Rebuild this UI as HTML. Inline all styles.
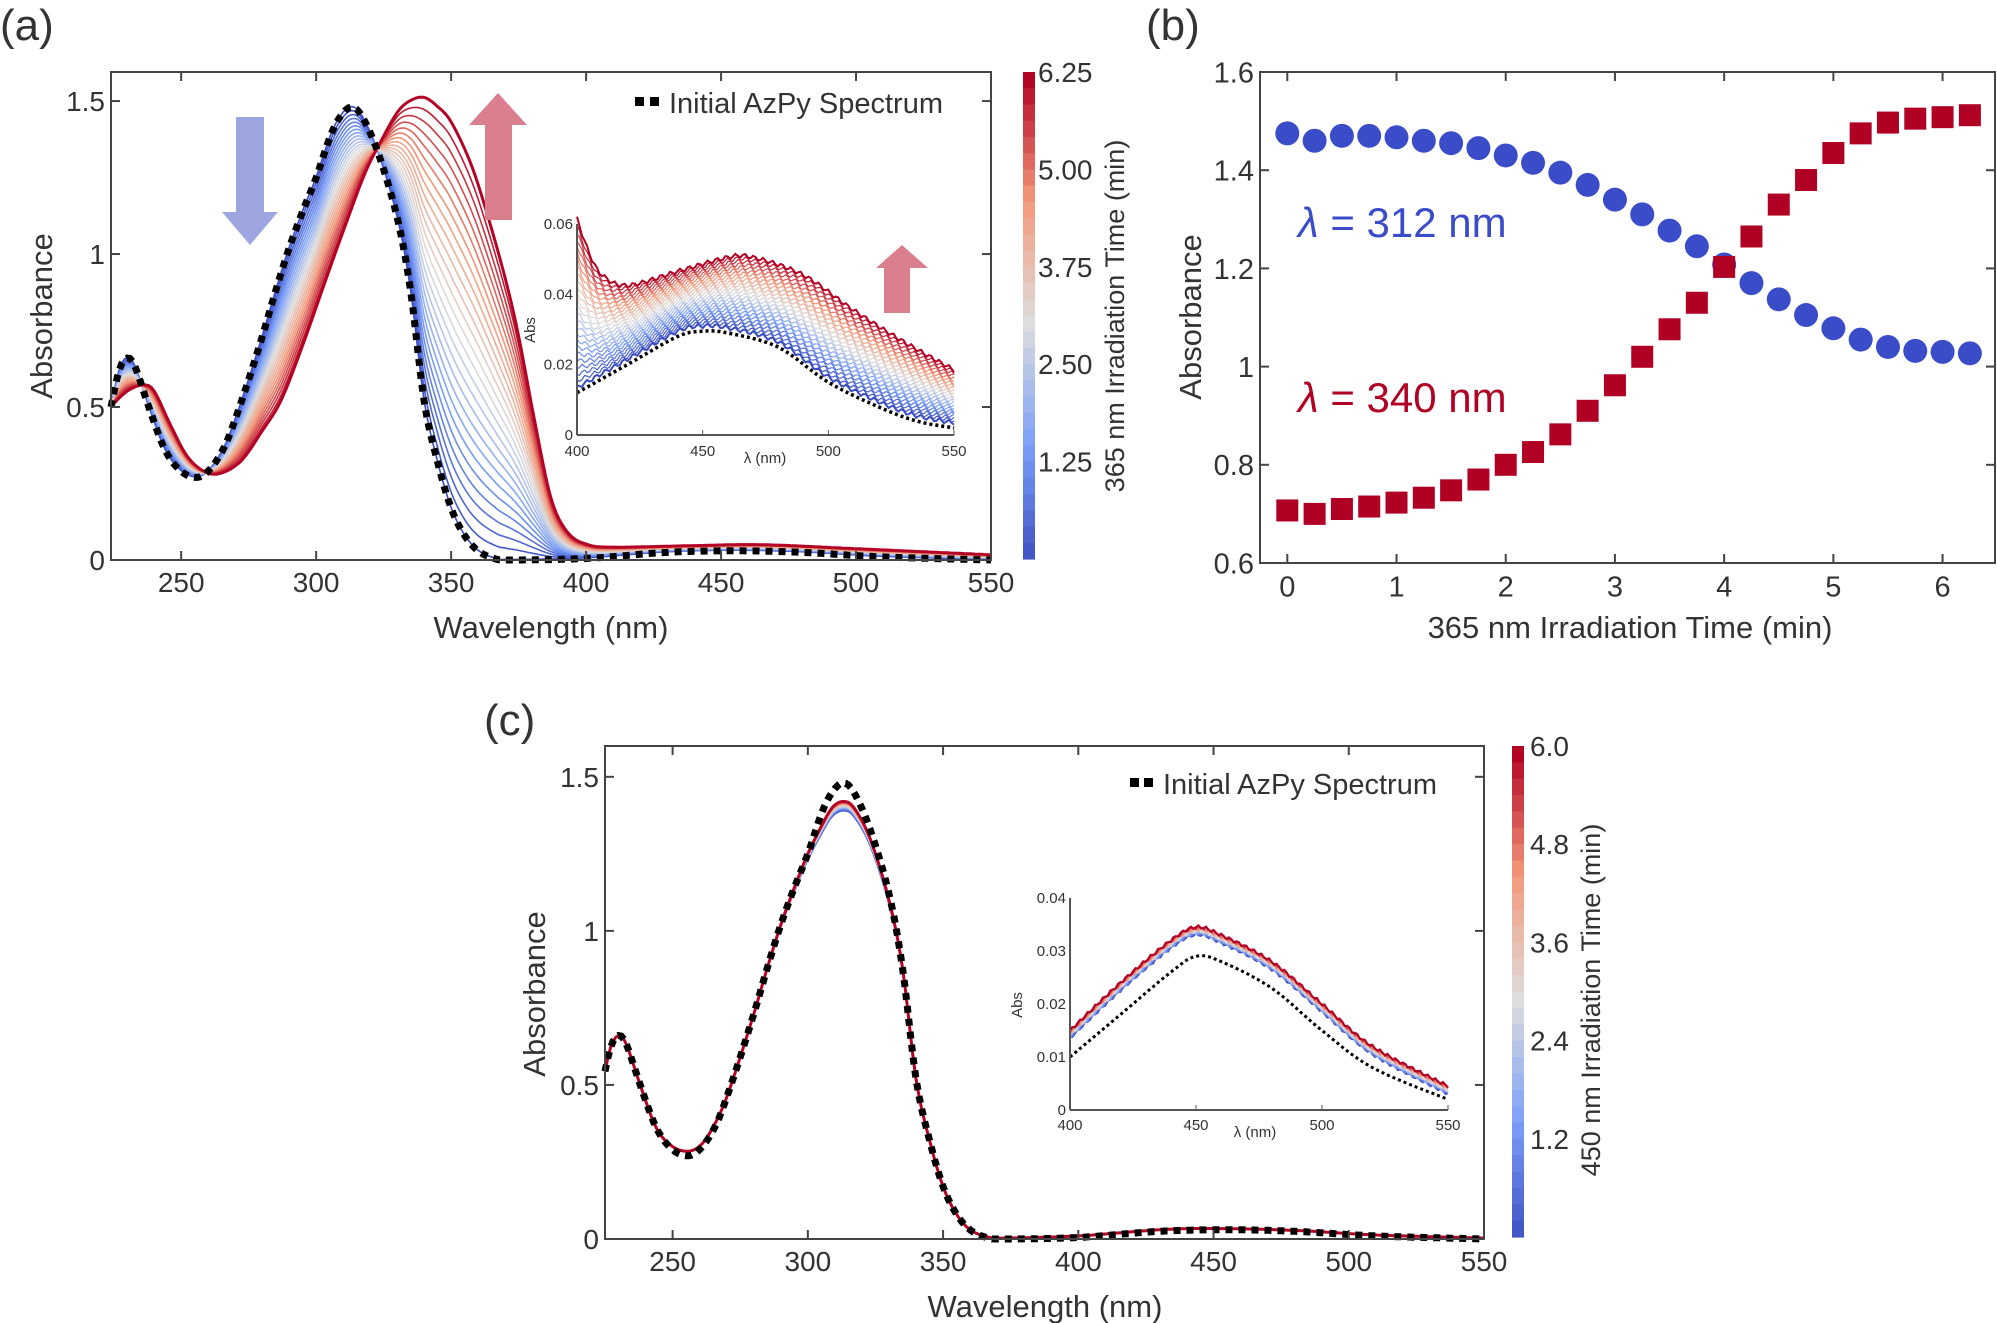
<!DOCTYPE html>
<html><head><meta charset="utf-8"><style>
html,body{margin:0;padding:0;background:#fff;}
svg{display:block;}
text{font-family:"Liberation Sans Narrow","Liberation Sans",sans-serif;fill:#333;}
</style></head><body>
<svg id="s" width="1997" height="1323" viewBox="0 0 1997 1323" xmlns="http://www.w3.org/2000/svg"></svg>
<script>
const S=document.getElementById('s');let out='';
function add(s){out+=s;}
function cr(pts){const r=[];for(let i=0;i<pts.length-1;i++){const p0=pts[Math.max(0,i-1)],p1=pts[i],p2=pts[i+1],p3=pts[Math.min(pts.length-1,i+2)];for(let k=0;k<12;k++){const t=k/12,t2=t*t,t3=t2*t;const f=(a,b,c,d)=>0.5*((2*b)+(-a+c)*t+(2*a-5*b+4*c-d)*t2+(-a+3*b-3*c+d)*t3);r.push([f(p0[0],p1[0],p2[0],p3[0]),f(p0[1],p1[1],p2[1],p3[1])]);}}r.push(pts[pts.length-1]);return r;}
function mk(pts){const d=cr(pts);return x=>{for(let i=0;i<d.length-1;i++){if(x>=d[i][0]&&x<=d[i+1][0]){const t=(x-d[i][0])/((d[i+1][0]-d[i][0])||1);return d[i][1]+t*(d[i+1][1]-d[i][1]);}}return x<d[0][0]?d[0][1]:d[d.length-1][1];};}
function cmap(f){const st=[[0,[59,76,192]],[0.25,[123,159,249]],[0.5,[221,221,221]],[0.75,[244,154,123]],[1,[180,4,38]]];for(let i=0;i<st.length-1;i++){if(f<=st[i+1][0]){const t=(f-st[i][0])/(st[i+1][0]-st[i][0]);const c=st[i][1].map((v,j)=>Math.round(v+t*(st[i+1][1][j]-v)));return 'rgb('+c.join(',')+')';}}return 'rgb(180,4,38)';}
function ax(o){const X=v=>o.x0+(v-o.xa)/(o.xb-o.xa)*(o.x1-o.x0),Y=v=>o.y0-(v-o.ya)/(o.yb-o.ya)*(o.y0-o.y1);return {X,Y};}
function path(fn,A,xa,xb,step,attrs){let d='';for(let x=xa;x<=xb+1e-9;x+=step){d+=(d?'L':'M')+A.X(x).toFixed(1)+','+A.Y(fn(x)).toFixed(1);}add(`<path d="${d}" fill="none" ${attrs}/>`);}
function frame(o,xt,yt,fs,tl,box,lab){const A=ax(o);add(`<rect x="${o.x0}" y="${o.y1}" width="${o.x1-o.x0}" height="${o.y0-o.y1}" fill="none" stroke="#444" stroke-width="2"/>`);
xt.forEach(v=>{const x=A.X(v);add(`<line x1="${x}" y1="${o.y0}" x2="${x}" y2="${o.y0-tl}" stroke="#444" stroke-width="2"/>`);if(box)add(`<line x1="${x}" y1="${o.y1}" x2="${x}" y2="${o.y1+tl}" stroke="#444" stroke-width="2"/>`);add(`<text x="${x}" y="${o.y0+fs*1.15}" font-size="${fs}" text-anchor="middle">${lab?lab(v):v}</text>`);});
yt.forEach(v=>{const y=A.Y(v);add(`<line x1="${o.x0}" y1="${y}" x2="${o.x0+tl}" y2="${y}" stroke="#444" stroke-width="2"/>`);if(box)add(`<line x1="${o.x1}" y1="${y}" x2="${o.x1-tl}" y2="${y}" stroke="#444" stroke-width="2"/>`);add(`<text x="${o.x0-6}" y="${y+fs*0.36}" font-size="${fs}" text-anchor="end">${v}</text>`);});return A;}
const init=mk([[224,.50],[227,.62],[230,.66],[233,.63],[238,.50],[244,.36],[250,.29],[256,.27],[261,.30],[266,.37],[270,.46],[275,.59],[280,.73],[285,.88],[290,1.02],[295,1.14],[300,1.25],[305,1.38],[309,1.45],[313,1.48],[317,1.45],[323,1.33],[330,1.12],[335,.88],[340,.52],[345,.32],[350,.17],[355,.08],[360,.03],[366,.005],[372,0],[400,.005],[430,.025],[455,.03],[480,.025],[510,.01],[550,0]]);
const fin=mk([[224,.50],[230,.55],[236,.57],[240,.55],[246,.44],[252,.34],[258,.29],[264,.28],[272,.32],[280,.42],[287,.52],[295,.70],[303,.90],[312,1.12],[318,1.26],[323,1.35],[330,1.46],[335,1.50],[340,1.51],[345,1.48],[350,1.43],[357,1.30],[363,1.14],[370,.92],[375,.73],[381,.45],[387,.20],[393,.09],[400,.05],[410,.04],[440,.045],[465,.048],[500,.035],[550,.015]]);
const iI=mk([[400,.012],[420,.02],[440,.028],[450,.0295],[460,.029],[480,.025],[500,.015],[520,.008],[535,.004],[550,.002]]);
const iF=mk([[400,.06],[405,.05],[410,.044],[420,.041],[440,.045],[460,.049],[470,.049],[490,.044],[510,.034],[530,.025],[550,.017]]);
add(`<text x="0" y="40" font-size="44" font-family="Liberation Sans">(a)</text>`);
let oa={x0:111,x1:991,y0:560,y1:72,xa:224,xb:550,ya:0,yb:1.595};
let A=ax(oa);
const N=26;
for(let i=0;i<N;i++){const f=i/(N-1);path(x=>init(x)*(1-f)+fin(x)*f+0.002,A,224,550,1,`stroke="${cmap(f)}" stroke-width="${i==N-1?3:1.6}"`);}
path(init,A,224,550,1,`stroke="#000" stroke-width="7" stroke-dasharray="7 6"`);
frame(oa,[250,300,350,400,450,500,550],[0,0.5,1,1.5],28,9,true);
add(`<polygon points="236,117 264,117 264,212 278,212 250,245 222,212 236,212" fill="#9ea6e0"/>`);
add(`<polygon points="485,220 512,220 512,125 527,125 498,93 469,125 485,125" fill="#d97f8e"/>`);
add(`<polygon points="884,313 910,313 910,268 928,268 902,245 876,268 884,268" fill="#d97f8e"/>`);
add(`<rect x="635" y="97" width="9" height="9" fill="#000"/><rect x="650" y="97" width="9" height="9" fill="#000"/>`);
add(`<text x="669" y="113" font-size="29">Initial AzPy Spectrum</text>`);
let ia={x0:577,x1:954,y0:435,y1:224,xa:400,xb:550,ya:0,yb:0.06};
let IA=ax(ia);
for(let i=0;i<N;i++){const f=i/(N-1);path(x=>iI(x)*(1-f)+iF(x)*f+0.0015+0.0006*Math.sin(x*1.7+i),IA,400,550,1,`stroke="${cmap(f)}" stroke-width="${i==N-1||i==0?2:1.2}"`);}
path(iI,IA,400,550,1,`stroke="#000" stroke-width="3.5" stroke-dasharray="3 3"`);
add(`<line x1="577" y1="224" x2="577" y2="435" stroke="#555" stroke-width="2"/><line x1="577" y1="435" x2="954" y2="435" stroke="#555" stroke-width="2"/>`);
[400,450,500,550].forEach(v=>{const x=IA.X(v);add(`<line x1="${x}" y1="435" x2="${x}" y2="430" stroke="#555"/><text x="${x}" y="456" font-size="15" text-anchor="middle">${v}</text>`);});
[[0,'0'],[0.02,'0.02'],[0.04,'0.04'],[0.06,'0.06']].forEach(([v,l])=>{const y=IA.Y(v);add(`<text x="573" y="${y+5}" font-size="15" text-anchor="end">${l}</text>`);});
add(`<text x="765" y="463" font-size="15" text-anchor="middle">λ (nm)</text>`);
add(`<text transform="translate(535,330) rotate(-90)" font-size="15" text-anchor="middle">Abs</text>`);
add(`<text transform="translate(52,316) rotate(-90)" font-size="31" text-anchor="middle" font-family="Liberation Sans">Absorbance</text>`);
add(`<text x="551" y="638" font-size="31" text-anchor="middle">Wavelength (nm)</text>`);
function cbar(x,y1,y2,w,n){for(let i=0;i<n;i++){const f=1-i/n;const h=(y2-y1)/n;add(`<rect x="${x}" y="${(y1+i*h).toFixed(1)}" width="${w}" height="${(h+0.6).toFixed(1)}" fill="${cmap(f)}"/>`);}}
cbar(1023,72,559,12,30);
[[6.25,'6.25'],[5,'5.00'],[3.75,'3.75'],[2.5,'2.50'],[1.25,'1.25']].forEach(([v,l])=>{const y=559-v/6.25*487;add(`<text x="1038" y="${y+10}" font-size="28">${l}</text>`);});
add(`<text transform="translate(1124,316) rotate(-90)" font-size="27" text-anchor="middle" font-family="Liberation Sans">365 nm Irradiation Time (min)</text>`);
add(`<text x="1146" y="40" font-size="44" font-family="Liberation Sans">(b)</text>`);
let ob={x0:1260,x1:1995,y0:563,y1:72,xa:-0.25,xb:6.48,ya:0.6,yb:1.6};
let B=frame(ob,[0,1,2,3,4,5,6],[0.6,0.8,1,1.2,1.4,1.6],29,9,true,v=>v);
const bl=[1.475,1.46,1.47,1.47,1.467,1.46,1.455,1.445,1.43,1.415,1.395,1.37,1.34,1.31,1.277,1.245,1.208,1.17,1.137,1.105,1.078,1.055,1.04,1.032,1.03,1.027];
const rd=[.707,.70,.71,.715,.723,.733,.748,.77,.80,.826,.862,.910,.962,1.02,1.076,1.13,1.203,1.265,1.33,1.38,1.435,1.475,1.497,1.505,1.508,1.512];
bl.forEach((v,i)=>add(`<circle cx="${B.X(i*0.25)}" cy="${B.Y(v)}" r="12" fill="#3b4cc8"/>`));
rd.forEach((v,i)=>add(`<rect x="${B.X(i*0.25)-11}" y="${B.Y(v)-11}" width="22" height="22" fill="#b00024"/>`));
add(`<text x="1298" y="237" font-size="42" style="fill:#3b4cc8" font-family="Liberation Serif"><tspan font-style="italic">λ</tspan> = 312 nm</text>`);
add(`<text x="1298" y="412" font-size="42" style="fill:#b00024" font-family="Liberation Serif"><tspan font-style="italic">λ</tspan> = 340 nm</text>`);
add(`<text transform="translate(1201,317) rotate(-90)" font-size="31" text-anchor="middle" font-family="Liberation Sans">Absorbance</text>`);
add(`<text x="1630" y="638" font-size="31" text-anchor="middle">365 nm Irradiation Time (min)</text>`);
add(`<text x="484" y="735" font-size="44" font-family="Liberation Sans">(c)</text>`);
let oc={x0:605,x1:1484,y0:1239,y1:746,xa:225,xb:550,ya:0,yb:1.6};
let C=ax(oc);
const cmain=mk([[224,.50],[227,.62],[230,.66],[233,.63],[238,.50],[244,.36],[250,.30],[256,.285],[261,.31],[266,.38],[270,.46],[275,.59],[280,.73],[285,.88],[290,1.02],[295,1.14],[300,1.25],[305,1.34],[309,1.40],[313,1.42],[317,1.40],[323,1.30],[330,1.10],[335,.88],[340,.52],[345,.32],[350,.17],[355,.08],[360,.03],[366,.008],[372,.003],[400,.01],[430,.03],[450,.034],[480,.028],[510,.013],[550,.003]]);
for(let i=0;i<12;i++){const f=i/11;path(x=>cmain(x)-(1-f)*0.03*Math.exp(-Math.pow((x-313)/20,2)),C,225,550,1,`stroke="${cmap(f)}" stroke-width="${i==11?3:1.6}"`);}
path(init,C,225,550,1,`stroke="#000" stroke-width="7" stroke-dasharray="7 6"`);
frame(oc,[250,300,350,400,450,500,550],[0,0.5,1,1.5],28,9,true);
add(`<rect x="1130" y="778" width="9" height="9" fill="#000"/><rect x="1144" y="778" width="9" height="9" fill="#000"/>`);
add(`<text x="1163" y="794" font-size="29">Initial AzPy Spectrum</text>`);
let ic={x0:1070,x1:1448,y0:1110,y1:898,xa:400,xb:550,ya:0,yb:0.04};
let IC=ax(ic);
const cI=mk([[400,.010],[420,.018],[440,.026],[450,.029],[460,.028],[480,.023],[500,.015],[520,.008],[550,.002]]);
const cF=mk([[400,.015],[420,.024],[440,.032],[450,.0345],[460,.033],[480,.028],[500,.020],[520,.012],[550,.0045]]);
for(let i=0;i<12;i++){const f=i/11;path(x=>cF(x)-(1-f)*0.0015+0.0003*Math.sin(x*2+i),IC,400,550,1,`stroke="${cmap(f)}" stroke-width="${i==11?2.2:1.4}"`);}
path(cI,IC,400,550,1,`stroke="#000" stroke-width="3" stroke-dasharray="3 3"`);
add(`<line x1="1070" y1="898" x2="1070" y2="1110" stroke="#555" stroke-width="2"/><line x1="1070" y1="1110" x2="1448" y2="1110" stroke="#555" stroke-width="2"/>`);
[400,450,500,550].forEach(v=>{const x=IC.X(v);add(`<line x1="${x}" y1="1110" x2="${x}" y2="1105" stroke="#555"/><text x="${x}" y="1130" font-size="15" text-anchor="middle">${v}</text>`);});
[[0,'0'],[0.01,'0.01'],[0.02,'0.02'],[0.03,'0.03'],[0.04,'0.04']].forEach(([v,l])=>{const y=IC.Y(v);add(`<text x="1066" y="${y+5}" font-size="15" text-anchor="end">${l}</text>`);});
add(`<text x="1255" y="1137" font-size="15" text-anchor="middle">λ (nm)</text>`);
add(`<text transform="translate(1022,1005) rotate(-90)" font-size="15" text-anchor="middle">Abs</text>`);
add(`<text transform="translate(545,994) rotate(-90)" font-size="31" text-anchor="middle" font-family="Liberation Sans">Absorbance</text>`);
add(`<text x="1045" y="1317" font-size="31" text-anchor="middle">Wavelength (nm)</text>`);
cbar(1512,746,1237,12,30);
[[6,'6.0'],[4.8,'4.8'],[3.6,'3.6'],[2.4,'2.4'],[1.2,'1.2']].forEach(([v,l])=>{const y=1237-v/6*491;add(`<text x="1530" y="${y+10}" font-size="28">${l}</text>`);});
add(`<text transform="translate(1600,1000) rotate(-90)" font-size="27" text-anchor="middle" font-family="Liberation Sans">450 nm Irradiation Time (min)</text>`);
S.innerHTML=out;
</script>
</body></html>
